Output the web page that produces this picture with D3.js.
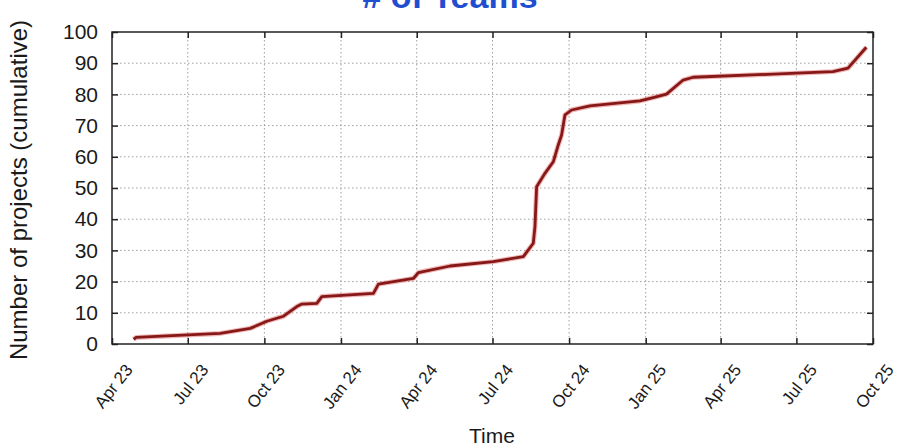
<!DOCTYPE html>
<html><head><meta charset="utf-8">
<script src="https://cdn.jsdelivr.net/npm/d3@7"></script>
<style>body{margin:0;background:#fff;} svg{display:block;}</style>
</head><body>
<svg id="chart" width="897" height="446"></svg>
<script>
const titleText = "# of Teams";
const xTitle = "Time";
const yTitle = "Number of projects (cumulative)";
const dates = ["2023-04-27","2023-04-30","2023-07-01","2023-08-09","2023-09-14","2023-10-04","2023-10-24","2023-11-09","2023-11-15","2023-12-03","2023-12-09","2024-02-09","2024-02-15","2024-03-28","2024-04-03","2024-05-11","2024-07-02","2024-08-07","2024-08-19","2024-08-21","2024-08-23","2024-09-02","2024-09-12","2024-09-18","2024-09-22","2024-09-26","2024-10-04","2024-10-26","2024-12-25","2025-01-10","2025-01-26","2025-02-15","2025-02-27","2025-07-01","2025-08-14","2025-09-01","2025-09-23"];
const values = [1.5,2.1,2.9,3.4,5.0,7.3,8.9,12.0,12.8,13.0,15.2,16.2,19.2,21.0,22.9,25.0,26.4,28.0,32.3,37.6,50.4,54.7,58.4,63.8,67.0,73.4,75.0,76.3,77.9,79.0,80.1,84.6,85.5,86.8,87.3,88.4,95.1];
const xTickDates = ["2023-04-01","2023-07-01","2023-10-01","2024-01-01","2024-04-01","2024-07-01","2024-10-01","2025-01-01","2025-04-01","2025-07-01","2025-10-01"];
const yTicks = [0,10,20,30,40,50,60,70,80,90,100];

const parse = d3.utcParse("%Y-%m-%d");
const data = dates.map((d,i)=>({date:parse(d), value:values[i]}));
const xt = xTickDates.map(parse);

const L=112, R=873, T=32, B=344;
const x = d3.scaleUtc().domain([parse("2023-04-01"), parse("2025-10-01")]).range([L,R]);
const y = d3.scaleLinear().domain([0,100]).range([B,T]);

const svg = d3.select("#chart");
const font = "'Liberation Sans', Arial, sans-serif";

// title (clipped at top, as in the reference)
svg.append("text").attr("x",450).attr("y",8).attr("text-anchor","middle")
  .attr("font-family",font).attr("font-weight","bold").attr("font-size",34)
  .attr("fill","#1f4fd0").text(titleText);

// grid
const grid = svg.append("g").attr("stroke","#a0a0a0").attr("stroke-width",1).attr("stroke-dasharray","1.5,2.5");
grid.selectAll("line.gy").data(yTicks.filter(v=>v>0&&v<100)).join("line")
  .attr("x1",L).attr("x2",R).attr("y1",d=>y(d)).attr("y2",d=>y(d));
grid.selectAll("line.gx").data(xt.slice(1,-1)).join("line")
  .attr("y1",T).attr("y2",B).attr("x1",d=>x(d)).attr("x2",d=>x(d));

// axes
const fmt = d3.utcFormat("%b %y");
const gy = svg.append("g").attr("transform",`translate(${L},0)`)
  .call(d3.axisLeft(y).tickValues(yTicks).tickSize(-6).tickPadding(14));
gy.select(".domain").remove();
gy.selectAll("text").attr("font-family",font).attr("font-size",21).attr("fill","#1a1a1a");
gy.selectAll("line").attr("stroke","#222").attr("stroke-width",1.5);

const gyr = svg.append("g").attr("transform",`translate(${R},0)`)
  .call(d3.axisRight(y).tickValues(yTicks).tickSize(-6).tickFormat(""));
gyr.select(".domain").remove();
gyr.selectAll("line").attr("stroke","#222").attr("stroke-width",1.5);

const gx = svg.append("g").attr("transform",`translate(0,${B})`)
  .call(d3.axisBottom(x).tickValues(xt).tickSize(-6).tickFormat(fmt));
gx.select(".domain").remove();
gx.selectAll("line").attr("stroke","#222").attr("stroke-width",1.5);
gx.selectAll("text").attr("font-family",font).attr("font-size",17).attr("fill","#1a1a1a")
  .attr("text-anchor","end").attr("x",0).attr("y",0).attr("dy",0)
  .attr("transform","translate(21,26) rotate(-52)");

const gxt = svg.append("g").attr("transform",`translate(0,${T})`)
  .call(d3.axisTop(x).tickValues(xt).tickSize(-6).tickFormat(""));
gxt.select(".domain").remove();
gxt.selectAll("line").attr("stroke","#222").attr("stroke-width",1.5);

// border
svg.append("rect").attr("x",L).attr("y",T).attr("width",R-L).attr("height",B-T)
  .attr("fill","none").attr("stroke","#222").attr("stroke-width",1.5);

// line
const line = d3.line().x(d=>x(d.date)).y(d=>y(d.value));
svg.append("path").datum(data).attr("d",line).attr("fill","none")
  .attr("stroke","#e06060").attr("stroke-opacity",0.45).attr("stroke-width",5).attr("stroke-linejoin","round");
svg.append("path").datum(data).attr("d",line).attr("fill","none")
  .attr("stroke","#861818").attr("stroke-width",2.8).attr("stroke-linejoin","round");

// axis titles
svg.append("text").attr("x",492).attr("y",443).attr("text-anchor","middle")
  .attr("font-family",font).attr("font-size",21).attr("fill","#1a1a1a").text(xTitle);
svg.append("text").attr("transform","translate(27,190) rotate(-90)").attr("text-anchor","middle")
  .attr("font-family",font).attr("font-size",24).attr("fill","#1a1a1a").text(yTitle);
</script>
</body></html>
